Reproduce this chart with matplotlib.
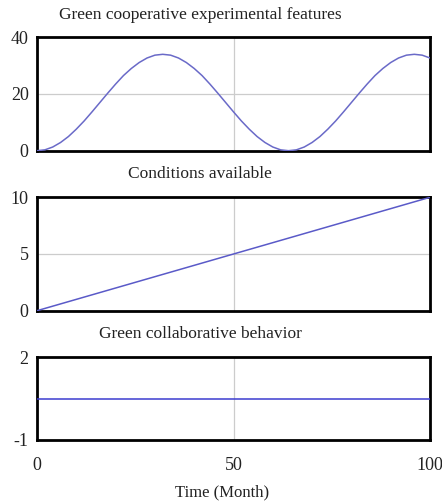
import numpy as np
import matplotlib
matplotlib.use("Agg")
import matplotlib.pyplot as plt

plt.rcParams['font.family'] = ['Liberation Serif', 'DejaVu Serif']
plt.rcParams['axes.unicode_minus'] = False

# Time axis (months)
months = list(range(0, 101, 2))

# Green cooperative experimental features (every 2 months)
features = [0.0, 0.3, 1.3, 2.9, 5.0, 7.6, 10.5, 13.7, 17.0, 20.3, 23.5, 26.5, 29.0,
            31.1, 32.7, 33.7, 34.0, 33.7, 32.7, 31.1, 29.0, 26.5, 23.5, 20.3, 17.0,
            13.7, 10.5, 7.6, 5.0, 2.9, 1.3, 0.3, 0.0, 0.3, 1.3, 2.9, 5.0, 7.6, 10.5,
            13.7, 17.0, 20.3, 23.5, 26.5, 29.0, 31.1, 32.7, 33.7, 34.0, 33.7, 32.7]

# Conditions available (straight line 0 -> 10)
cond_t = [0, 100]
conditions = [0, 10]

# Green collaborative behavior (constant)
behav_t = [0, 100]
behavior = [0.5, 0.5]

titles = ['Green cooperative experimental features', 'Conditions available',
          'Green collaborative behavior']
yticks = [[0, 20, 40], [0, 5, 10], [-1, 2]]
ylims = [(0, 40), (0, 10), (-1, 2)]

fig = plt.figure(figsize=(4.42, 5.03), dpi=100)

# axes rectangles in figure fraction
left, width = 37 / 442, 393 / 442
rects = [
    [left, 1 - 150.7 / 503, width, 113.4 / 503],
    [left, 1 - 310.7 / 503, width, 113.4 / 503],
    [left, 1 - 440 / 503, width, 83 / 503],
]
title_y = [15, 174, 334]
series = [(months, features, '#6a6ac8'), (cond_t, conditions, '#5a5ac8'),
          (behav_t, behavior, '#3c3cd0')]

for i in range(3):
    ax = fig.add_axes(rects[i])
    x, y, c = series[i]
    ax.plot(x, y, color=c, linewidth=1.1, zorder=3)
    ax.set_xlim(0, 100)
    ax.set_ylim(*ylims[i])
    ax.set_yticks(yticks[i])
    ax.set_xticks([0, 50, 100])
    ax.tick_params(length=0, labelsize=13, pad=6, colors='#222222')
    ax.axvline(50, color='#cccccc', linewidth=0.9, zorder=1)
    if i < 2:
        ax.axhline(ylims[i][1] / 2, color='#cccccc', linewidth=0.9, zorder=1)
        ax.set_xticklabels([])
    else:
        ax.tick_params(axis='x', pad=12)
    for s in ax.spines.values():
        s.set_linewidth(2.0)
        s.set_color('black')
    fig.text(200 / 442, 1 - title_y[i] / 503, titles[i], ha='center', va='center',
             fontsize=12.5, color='#222222')

fig.text(222 / 442, 1 - 492 / 503, 'Time (Month)', ha='center', va='center',
         fontsize=12, color='#222222')

plt.savefig("out.png", dpi=100)
